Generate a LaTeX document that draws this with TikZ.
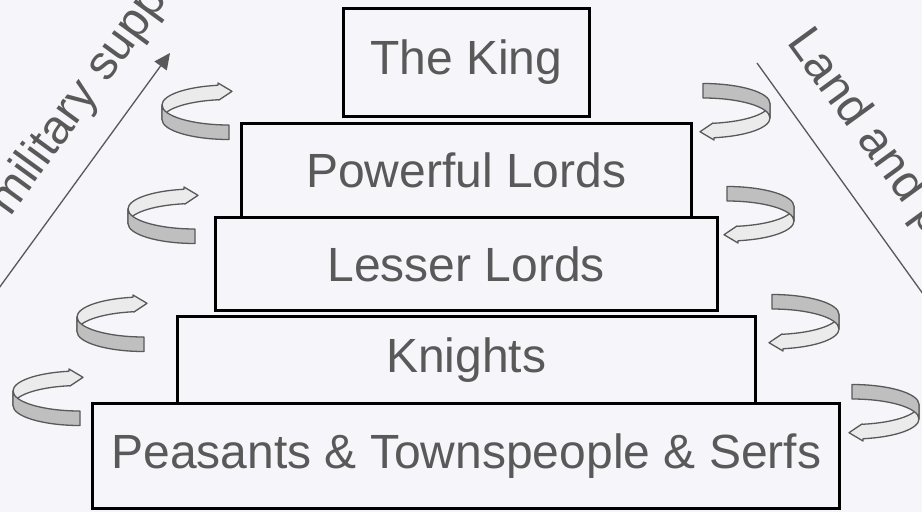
\documentclass[tikz,border=0pt]{standalone}
\usepackage{fontspec}
\setmainfont{Liberation Sans}
\usepackage{xcolor}
\usetikzlibrary{positioning,arrows.meta}

\definecolor{bgcol}{RGB}{245,245,250}
\definecolor{inkgray}{RGB}{89,89,89}
\definecolor{ribbonlight}{RGB}{235,235,235}
\definecolor{ribbondark}{RGB}{191,191,191}

\begin{document}
\begin{tikzpicture}[x=1pt, y=1pt,
        every node/.style={font=\fontsize{48}{57}\selectfont, text=inkgray},
        tier/.style={draw=black, line width=3pt, fill=bgcol, inner sep=0pt, outer sep=0pt},
        ribbonedge/.style={draw=inkgray, line width=1.3pt, line join=round},
        twist/.pic={
            % back of the loop, with the point
            \draw[ribbonedge, fill=ribbonlight] (-11,22) -- (-11.06,19.73)
                arc[start angle=99.5, end angle=180, x radius=67, y radius=20] -- ++(0,-14.5)
                arc[start angle=180, end angle=99.5, x radius=67, y radius=20] -- (-10,5) -- (3,13.7) -- cycle;
            % front of the loop
            \draw[ribbonedge, fill=ribbondark] (-67,0)
                arc[start angle=180, end angle=270, x radius=67, y radius=20] -- ++(0,-14.5)
                arc[start angle=270, end angle=180, x radius=67, y radius=20] -- cycle;
        }]
        \useasboundingbox (0,0) rectangle (922,-512);
        \fill[bgcol] (0,0) rectangle (922,-512);
        \clip (0,0) rectangle (922,-512);

        % Tiers
        \node[tier, minimum width=246, minimum height=108] (king) at (466.3,-62.3) {The King};
        \node[tier, minimum width=450, minimum height=93.7, below=7.6pt of king] (powerful) {Powerful Lords};
        \node[tier, minimum width=502, minimum height=93.2, below=0pt of powerful] (lesser) {Lesser Lords};
        \node[tier, minimum width=578, minimum height=86.8, below=6pt of lesser] (knights) {Knights};
        \node[tier, minimum width=747, minimum height=105, below=0pt of knights] (peasants) {Peasants \& Townspeople \& Serfs};

        % Twists on the left
        \pic at (229,-105) {twist};
        \pic at (195,-209) {twist};
        \pic at (144,-317) {twist};
        \pic at (80,-391) {twist};

        % Twists on the right
        \pic[rotate=180] at (703,-118) {twist};
        \pic[rotate=180] at (727,-221) {twist};
        \pic[rotate=180] at (772,-329) {twist};
        \pic[rotate=180] at (852,-419) {twist};

        % Arrows at the sides
        \coordinate (supportfoot) at (-25,-321);
        \coordinate (supporttip) at (170,-53);
        \draw[-{Triangle[length=16pt, width=15pt]}, draw=inkgray, fill=inkgray, line width=1.3pt] (supportfoot) -- (supporttip);
        \node[rotate=54, anchor=base west] (support) at (8,-220) {military support};

        \coordinate (landtop) at (757,-63);
        \coordinate (landfoot) at (1000,-401);
        \draw[-{Triangle[length=16pt, width=15pt]}, draw=inkgray, fill=inkgray, line width=1.3pt] (landtop) -- (landfoot);
        \node[rotate=-54, anchor=base west] (land) at (784,-40) {Land and protection};
\end{tikzpicture}
\end{document}
